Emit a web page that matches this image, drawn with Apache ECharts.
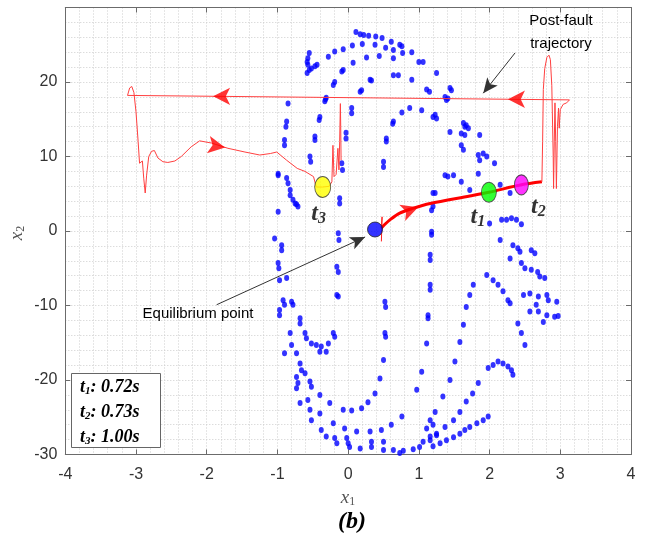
<!DOCTYPE html>
<html><head><meta charset="utf-8">
<script src="https://cdn.jsdelivr.net/npm/echarts@6/dist/echarts.min.js"></script>
<style>html,body{margin:0;padding:0;background:#fff}#c{width:651px;height:540px}</style>
</head><body><div id="c"></div>
<script>
// ---- axis ranges / ticks ----
const xRange = [-4, 4];
const yRange = [-30, 30];
const xTickStep = 1;
const yTickStep = 10;

// ---- blue stability-boundary dots (x1, x2) ----
const dotsTopArcs = [
  [0.11,26.7],[0.17,26.4],[0.22,26.3],[0.29,26.2],[0.39,26.1],[0.48,25.9],[0.61,25.4],[0.73,25.0],[0.76,24.8],[0.90,24.0],[1.00,22.7],[1.06,22.7],
  [-0.28,23.4],[-0.19,24.1],[-0.07,24.4],[0.06,24.9],[0.20,25.1],[0.38,25.0],[0.53,24.6],[0.64,24.3],[0.77,23.9],
  [0.07,22.6],[0.26,23.3],[0.44,23.5],[0.64,23.2],[-0.09,21.4],[-0.07,21.6],[-0.21,19.6],[-0.19,20.0],[-0.32,17.7],[-0.31,17.9],[-0.33,17.4],
  [-0.55,23.9],[-0.57,23.2],[-0.58,22.7],[-0.57,22.3],[-0.55,21.6],[-0.58,21.2],[-0.52,21.8],[-0.47,22.1],[-0.44,22.3],
  [0.17,18.7],[0.19,18.9],[0.31,20.3],[0.33,20.2],[0.64,20.9],[0.71,20.9],[0.90,20.3],[1.11,19.0],[1.15,18.7],[1.25,21.2],[1.44,19.2],[1.46,18.9],[1.37,18.0],[1.39,17.6],[1.41,17.8],
  [0.76,15.9],[0.87,16.5],[1.04,16.2],[1.23,15.6],[1.20,15.3],[1.25,15.1]
];
const dotsLeft = [
  [-0.85,17.1],[-0.87,14.7],[-0.88,14.0],[-0.90,12.2],[-0.90,11.5],[-0.99,7.7],[-0.99,7.5],[-0.87,7.1],[-0.85,6.4],[-0.82,5.5],[-0.82,4.8],[-0.78,4.2],[-0.75,3.7],[-0.71,3.3],[-0.73,3.6],[-0.99,2.6],
  [-0.40,15.3],[-0.41,14.9],[-0.47,12.7],[-0.47,12.2],[-0.54,10.0],[-0.53,9.3],
  [-1.04,-1.0],[-0.94,-1.9],[-0.94,-2.6],[-0.99,-4.3],[-0.98,-5.0],[-0.97,-6.6],[-0.87,-6.3],
  [-0.92,-9.3],[-0.90,-9.9],[-0.97,-10.6],[-0.97,-11.3],[-0.80,-9.5],[-0.78,-9.9],[-0.68,-11.7],[-0.68,-12.4],[-0.82,-13.7],[-0.80,-15.3],
  [-0.61,-13.7],[-0.59,-14.4],[-0.52,-15.1],[-0.45,-15.3],[-0.38,-15.5],[-0.28,-15.1],[-0.21,-13.7],[-0.19,-14.2],
  [-0.90,-16.4],[-0.73,-16.4],[-0.40,-16.2],[-0.31,-16.2]
];
const dotsMiddle = [
  [0.05,16.5],[0.05,15.8],[-0.03,13.2],[-0.03,12.4],[-0.09,9.1],[-0.08,8.2],[-0.12,4.4],[-0.12,3.7],[-0.14,-0.3],[-0.13,-1.2],[-0.16,-4.8],[-0.14,-5.5],[-0.16,-8.6],[-0.14,-8.8],
  [0.64,14.7],[0.63,14.4],[0.54,12.4],[0.54,12.0],[0.50,9.3],[0.50,8.6],[0.52,-9.5],[0.53,-10.2],[0.52,-13.7],[0.53,-14.2],[0.50,-17.3],
  [1.20,5.1],[1.20,3.3],[1.18,2.8],[1.18,-0.1],[1.18,-0.5],[1.16,-3.2],[1.16,-3.9],[1.16,-7.2],[1.16,-7.9],[1.13,-11.3],[1.13,-11.7],[1.11,-15.1],[1.04,-18.9],[0.97,-21.3]
];
const dotsRight = [
  [1.37,7.5],[1.41,7.3],[1.49,7.5],[1.60,6.6],[1.72,5.5],[1.84,7.7],[2.15,6.2],[2.29,5.1],[1.23,5.1],
  [1.44,13.3],[1.63,14.5],[1.65,14.0],[1.67,14.2],[1.70,13.8],[1.60,13.1],[1.65,12.9],[1.86,12.9],[1.60,11.5],[1.63,10.9],[1.84,10.2],[1.91,10.4],[1.96,10.0],[2.07,9.1],[1.86,9.5],
  [2.00,1.0],[2.17,1.5],[2.24,1.5],[2.31,1.7],[2.38,1.5],[2.45,0.9],[2.15,-1.2],[2.29,-3.7],
  [2.33,-1.9],[2.40,-2.3],[2.43,-2.8],[2.59,-2.6],[2.64,-3.0],[2.45,-4.3],[2.50,-5.0],[2.59,-5.2],[2.68,-5.5],[2.71,-6.1],[2.78,-6.3],
  [1.96,-5.9],[2.05,-6.6],[2.12,-7.2],[2.19,-8.1],[2.26,-9.3],[2.29,-9.7],
  [2.48,-8.6],[2.57,-8.4],[2.69,-8.8],[2.81,-8.6],[2.83,-9.3],[2.95,-9.5],[2.81,-11.3],[2.92,-11.5],[2.97,-11.4],[2.57,-10.8],[2.69,-10.8],[2.76,-12.2],[2.66,-9.9],
  [2.40,-12.4],[2.45,-13.7],[2.50,-15.3],
  [1.77,-7.2],[1.72,-8.6],[1.67,-10.2],[1.63,-12.6],[1.58,-14.9]
];
const dotsBottom = [
  [1.51,-17.5],[1.44,-20.0],[1.34,-22.2],[1.23,-24.3],[1.16,-25.4],
  [1.84,-20.4],[1.76,-21.8],[1.67,-22.9],[1.58,-24.3],[1.49,-25.4],[1.37,-26.3],[1.25,-27.2],[1.16,-28.1],
  [1.98,-18.4],[2.05,-18.0],[2.12,-17.5],[2.19,-17.8],[2.26,-18.2],[2.31,-18.7],[2.33,-19.3],
  [1.98,-24.9],[1.91,-25.4],[1.82,-25.8],[1.72,-26.3],[1.65,-26.7],[1.58,-27.2],[1.49,-27.7],[1.39,-28.1],[1.30,-28.5],[1.20,-28.9],
  [-0.68,-17.8],[-0.66,-18.7],[-0.73,-19.6],[-0.71,-20.4],[-0.73,-21.1],[-0.61,-19.1],[-0.54,-20.2],[-0.52,-20.9],[-0.40,-22.0],[-0.26,-23.1],[-0.07,-24.0],[0.05,-24.1],[0.19,-23.8],[0.28,-23.0],[0.38,-21.8],[0.45,-19.8],
  [-0.68,-23.1],[-0.57,-22.7],[-0.54,-24.0],[-0.40,-24.5],[-0.52,-25.4],[-0.21,-25.8],[-0.05,-26.5],[0.12,-26.9],[0.31,-26.9],[0.47,-26.7],[0.61,-26.0],[0.76,-24.9],
  [-0.38,-26.7],[-0.31,-27.6],[-0.19,-27.8],[-0.16,-28.5],[-0.02,-27.8],[0.00,-28.5],[0.02,-29.0],[0.17,-29.2],[0.33,-29.0],[0.33,-28.3],[0.50,-28.3],[0.50,-29.4],[0.64,-29.4],[0.73,-29.8],[0.78,-29.5],[0.92,-29.3],[1.01,-29.0],[1.06,-28.3],[1.16,-27.6],[1.25,-27.4],[1.11,-26.5],[1.20,-26.0]
];

// ---- red trajectories ----
const startTick = [[0.47,-1.4],[0.48,1.9],[0.47,0.4]];
const faultOn = [[0.47,0.4],[0.52,0.9],[0.59,1.5],[0.73,2.4],[0.90,3.0],[1.16,3.7],[1.72,4.7],[1.99,5.2],[2.45,6.2],[2.74,6.6]];
const postFault = [
  [2.74,6.6],[2.75,12],[2.76,19],[2.78,21.8],[2.81,23.3],[2.84,23.6],[2.86,23.0],[2.88,19.5],[2.90,10],[2.905,5.7],[2.915,12],[2.925,17.2],[2.935,12],[2.945,5.7],
  [2.96,14],[2.975,16.5],[2.985,13.8],[3.00,16.3],[3.04,17.0],[3.09,17.2],[3.13,17.6],
  [-3.12,18.2],[-3.09,19.2],[-3.06,19.4],[-3.03,18.6],[-3.00,16.0],[-2.97,12.0],[-2.95,9.1],[-2.93,9.0],[-2.91,9.4],[-2.89,7.0],[-2.87,5.1],[-2.85,7.5],[-2.82,10.0],
  [-2.78,10.7],[-2.74,10.8],[-2.69,9.8],[-2.62,9.3],[-2.55,9.2],[-2.45,9.4],[-2.36,10.0],[-2.22,11.3],[-2.10,12.1],[-1.93,11.8],[-1.70,11.1],[-1.46,10.6],[-1.25,10.2],
  [-1.10,10.4],[-1.01,10.6],[-0.87,9.5],[-0.72,8.4],[-0.61,8.0],[-0.49,7.3],[-0.45,5.9],[-0.36,5.9],[-0.27,6.0],[-0.23,6.6],[-0.215,11.5],[-0.20,7.3],[-0.17,7.6],
  [-0.145,11.1],[-0.13,8.2],[-0.12,12],[-0.11,17.1],[-0.105,14],[-0.10,9.5]
];
const redArrowPos = [[-1.91,18.08],[2.26,17.68],[-1.74,11.2],[0.99,3.2]];

// ---- highlighted states ----
const eqPoint = [0.38,0.2];
const t1Point = [1.99,5.2];
const t2Point = [2.45,6.2];
const t3Point = [-0.36,5.9];
const timeLabels = ['0.72s','0.73s','1.00s'];

// ---- annotation arrows (data coords) ----
const postFaultArrow = [[2.36,23.9],[1.91,18.5]];
const eqArrow = [[-1.86,-9.9],[0.24,-0.8]];

const chart = echarts.init(document.getElementById('c'), null, {renderer:'canvas'});
const gridLine = {color:'#cdcdcd', type:[1,2], width:1};
const axisCol = '#6b6b6b';
const serif = 'Liberation Serif, Times New Roman, serif';
const sans = 'Liberation Sans, Arial, Helvetica, sans-serif';

function mainAxis(range, step, pos) {
  return {
    type:'value', min:range[0], max:range[1], interval:step, position:pos,
    axisLine:{show:true, onZero:false, lineStyle:{color:axisCol, width:1}},
    axisTick:{show:true, inside:true, length:5, lineStyle:{color:axisCol}},
    axisLabel:{show:true, fontSize:16, color:'#333', fontFamily:sans, margin:(pos==='bottom'?12:8), showMaxLabel:(pos==='bottom')},
    splitLine:{show:true, lineStyle:gridLine},
    minorTick:{show:false, splitNumber:5},
    minorSplitLine:{show:true, lineStyle:gridLine}
  };
}
function mirrorAxis(range, step, pos) {
  return {
    type:'value', min:range[0], max:range[1], interval:step, position:pos,
    axisLine:{show:true, onZero:false, lineStyle:{color:axisCol, width:1}},
    axisTick:{show:true, inside:true, length:5, lineStyle:{color:axisCol}},
    axisLabel:{show:false}, splitLine:{show:false}
  };
}
const dotSeries = [dotsTopArcs, dotsLeft, dotsMiddle, dotsRight, dotsBottom].map(d => ({
  type:'scatter', data:d, symbol:'circle', symbolSize:[5,6], itemStyle:{color:'#0000ff'}, z:2, silent:true
}));
const arrowRot = [90, 90, -100, -70];

function tLabel(n, off) {
  return {show:true, position:'inside', offset:off, formatter:'{t|t}{s|' + n + '}',
    rich:{t:{fontFamily:serif, fontWeight:'bold', fontStyle:'italic', fontSize:24, color:'#000'},
          s:{fontFamily:serif, fontWeight:'bold', fontStyle:'italic', fontSize:16, color:'#000', verticalAlign:'bottom', padding:[10,0,0,0]}}};
}

const option = {
  animation:false,
  backgroundColor:'#fff',
  grid:{left:65.3, right:20, top:7.5, bottom:85.5, containLabel:false},
  xAxis:[mainAxis(xRange, xTickStep, 'bottom'), mirrorAxis(xRange, xTickStep, 'top')],
  yAxis:[mainAxis(yRange, yTickStep, 'left'), mirrorAxis(yRange, yTickStep, 'right')],
  series:[
    ...dotSeries,
    {type:'line', data:startTick, showSymbol:false, lineStyle:{color:'#ff2020', width:1}, z:3, silent:true},
    {type:'line', data:faultOn, showSymbol:false, smooth:0.3, lineStyle:{color:'#ff0000', width:3}, z:3, silent:true},
    {type:'line', data:postFault, showSymbol:false, lineStyle:{color:'#ff4040', width:1}, z:3, silent:true},
    {type:'scatter', symbol:'arrow', symbolSize:[13,17], itemStyle:{color:'#ff0000'}, z:4,
      data:redArrowPos.map((p,i) => ({value:p, symbolRotate:arrowRot[i]}))},
    {type:'scatter', data:[eqPoint], symbolSize:15, itemStyle:{color:'#0000ff', borderColor:'#222', borderWidth:1}, z:6},
    {type:'scatter', data:[t1Point], symbolSize:[15,20], itemStyle:{color:'#00ff00', borderColor:'#333', borderWidth:1}, z:6, label:tLabel('1',[-11,25])},
    {type:'scatter', data:[t2Point], symbolSize:[14,20], itemStyle:{color:'#ff00ff', borderColor:'#333', borderWidth:1}, z:6, label:tLabel('2',[17,22])},
    {type:'scatter', data:[t3Point], symbolSize:[16,21], itemStyle:{color:'#ffff00', borderColor:'#333', borderWidth:1}, z:6, label:tLabel('3',[-4,27])},
    {type:'scatter', data:[], z:7,
      markLine:{silent:true, symbol:['none','arrow'], symbolSize:[10,15], label:{show:false},
        lineStyle:{color:'#333', width:1, type:'solid'},
        data:[
          [{coord:postFaultArrow[0]},{coord:postFaultArrow[1]}],
          [{coord:eqArrow[0]},{coord:eqArrow[1]}]
        ]}}
  ],
  graphic:[
    {type:'text', x:561, y:21, style:{text:'Post-fault', font:'15px ' + sans, fill:'#000', align:'center', verticalAlign:'middle'}, z:100},
    {type:'text', x:561, y:44, style:{text:'trajectory', font:'15px ' + sans, fill:'#000', align:'center', verticalAlign:'middle'}, z:100},
    {type:'text', x:198, y:314, style:{text:'Equilibrium point', font:'15px ' + sans, fill:'#000', align:'center', verticalAlign:'middle'}, z:100},
    {type:'rect', shape:{x:71.5, y:373.5, width:89, height:74}, style:{fill:'#fff', stroke:'#666', lineWidth:1}, z:100},
    ...timeLabels.map((v,i) => ({type:'text', x:80, y:[387,412,437][i], z:101,
      style:{text:'{t|t}{s|' + (i+1) + '}{v|: ' + v + '}', align:'left', verticalAlign:'middle',
        rich:{t:{font:'italic bold 18px ' + serif, fill:'#000'},
              s:{font:'italic bold 11px ' + serif, fill:'#000', verticalAlign:'bottom', padding:[8,0,0,0]},
              v:{font:'italic bold 18px ' + serif, fill:'#000'}}}})),
    {type:'text', x:348, y:498, z:100, style:{text:'{x|x}{s|1}', align:'center', verticalAlign:'middle',
      rich:{x:{font:'italic 19px ' + serif, fill:'#555'}, s:{font:'12px ' + serif, fill:'#555', verticalAlign:'bottom', padding:[7,0,0,0]}}}},
    {type:'text', x:17, y:233, rotation:Math.PI/2, z:100, style:{text:'{x|x}{s|2}', align:'center', verticalAlign:'middle',
      rich:{x:{font:'italic 19px ' + serif, fill:'#555'}, s:{font:'12px ' + serif, fill:'#555', verticalAlign:'bottom', padding:[7,0,0,0]}}}},
    {type:'text', x:352, y:522, z:100, style:{text:'(b)', font:'italic bold 24px ' + serif, fill:'#000', align:'center', verticalAlign:'middle'}}
  ]
};
chart.setOption(option);
</script></body></html>
